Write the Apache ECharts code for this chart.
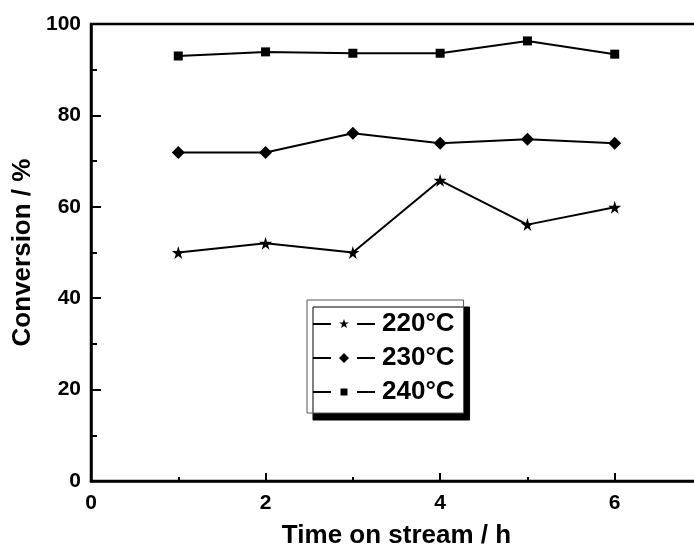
<!DOCTYPE html>
<html>
<head>
<meta charset="utf-8">
<script src="https://cdn.jsdelivr.net/npm/echarts@6/dist/echarts.min.js"></script>
<style>
  html, body { margin: 0; padding: 0; background: #fff; }
  #myChart { width: 694px; height: 548px; }
</style>
</head>
<body>
<div id="myChart"></div>
<script>
var hours = [1, 2, 3, 4, 5, 6];
var conv220 = [50.0, 52.0, 50.0, 65.8, 56.1, 59.9];
var conv230 = [71.9, 71.9, 76.1, 73.9, 74.8, 73.9];
var conv240 = [93.0, 93.9, 93.6, 93.6, 96.3, 93.4];
var seriesNames = ['220°C', '230°C', '240°C'];

var fontFam = 'Arial, "Liberation Sans", sans-serif';

// marker shapes
var starPath = 'path://M50,0 L61,35 L98,35 L68,57 L79,91 L50,70 L21,91 L32,57 L2,35 L39,35 Z';

// legend icons: line - marker - line, in a 62 x 12 box
var legLines = 'M0,0 L0.01,0 L0,0.01 Z M0,12 L0.01,12 L0,11.99 Z M0,5 L18,5 L18,7 L0,7 Z M44,5 L62,5 L62,7 L44,7 Z ';
var legendIcons = [
    'path://' + legLines + 'M31,1 L32.2,4.4 L35.8,4.4 L32.9,6.6 L34,10 L31,7.9 L28,10 L29.1,6.6 L26.2,4.4 L29.8,4.4 Z',
    'path://' + legLines + 'M31,1 L36,6 L31,11 L26,6 Z',
    'path://' + legLines + 'M27.5,2.5 L34.5,2.5 L34.5,9.5 L27.5,9.5 Z'
];

function pairs(ys) {
    return hours.map(function (h, i) { return [h, ys[i]]; });
}

var myChart = echarts.init(document.getElementById('myChart'));

var option = {
    animation: false,
    backgroundColor: '#fff',
    grid: {
        left: 91,
        top: 24,
        bottom: 67,
        width: 611,
        outerBoundsMode: 'none',
        containLabel: false,
        show: true,
        borderColor: '#000',
        borderWidth: 2.5
    },
    legend: {
        orient: 'vertical',
        left: 307,
        top: 300,
        padding: [11, 9, 8, 6],
        itemGap: 8,
        itemWidth: 62,
        itemHeight: 12,
        backgroundColor: '#fff',
        borderColor: '#555',
        borderWidth: 1,
        shadowColor: '#000',
        shadowBlur: 0,
        shadowOffsetX: 6,
        shadowOffsetY: 7,
        itemStyle: { color: '#000', borderWidth: 0 },
        lineStyle: { width: 0 },
        textStyle: {
            color: '#000',
            fontSize: 26,
            fontWeight: 'bold',
            fontFamily: fontFam,
            padding: [0, 0, 0, 2]
        },
        data: seriesNames.map(function (n, i) { return { name: n, icon: legendIcons[i] }; })
    },
    xAxis: {
        type: 'value',
        min: 0,
        max: 7,
        interval: 2,
        name: 'Time on stream / h',
        nameLocation: 'middle',
        nameGap: 42,
        nameMoveOverlap: false,
        nameTextStyle: { color: '#000', fontSize: 26, fontWeight: 'bold', fontFamily: fontFam },
        axisLine: { lineStyle: { color: '#000', width: 2.5 } },
        axisTick: { inside: true, length: 8, lineStyle: { color: '#000', width: 2 } },
        minorTick: { show: true, splitNumber: 2, length: 4, lineStyle: { color: '#000', width: 2 } },
        splitLine: { show: false },
        axisLabel: {
            color: '#000', fontSize: 21, fontWeight: 'bold', fontFamily: fontFam, margin: 12,
            formatter: function (v) { return v > 6 ? '' : v; }
        }
    },
    yAxis: {
        type: 'value',
        min: 0,
        max: 100,
        interval: 20,
        name: 'Conversion / %',
        nameLocation: 'middle',
        nameGap: 55,
        nameMoveOverlap: false,
        nameTextStyle: { color: '#000', fontSize: 26, fontWeight: 'bold', fontFamily: fontFam },
        axisLine: { lineStyle: { color: '#000', width: 2.5 } },
        axisTick: { inside: true, length: 10, lineStyle: { color: '#000', width: 2 } },
        minorTick: { show: true, splitNumber: 2, length: 6, lineStyle: { color: '#000', width: 2 } },
        splitLine: { show: false },
        axisLabel: { color: '#000', fontSize: 21, fontWeight: 'bold', fontFamily: fontFam, margin: 10 }
    },
    series: [{
        name: seriesNames[0],
        type: 'line',
        data: pairs(conv220),
        symbol: starPath,
        symbolSize: 13,
        itemStyle: { color: '#000' },
        lineStyle: { color: '#000', width: 2 }
    }, {
        name: seriesNames[1],
        type: 'line',
        data: pairs(conv230),
        symbol: 'diamond',
        symbolSize: 13,
        itemStyle: { color: '#000' },
        lineStyle: { color: '#000', width: 2 }
    }, {
        name: seriesNames[2],
        type: 'line',
        data: pairs(conv240),
        symbol: 'rect',
        symbolSize: 9,
        itemStyle: { color: '#000' },
        lineStyle: { color: '#000', width: 2 }
    }]
};
myChart.setOption(option, true);
</script>
</body>
</html>
